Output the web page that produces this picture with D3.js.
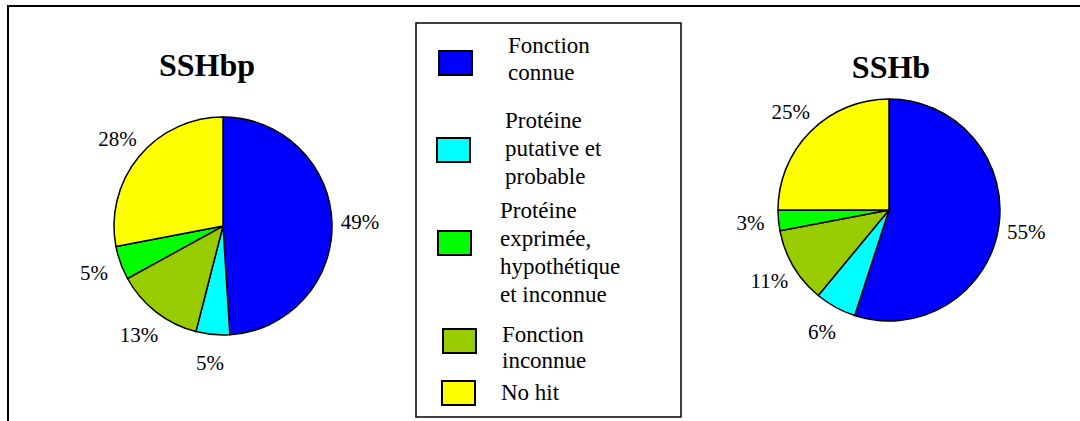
<!DOCTYPE html>
<html>
<head>
<meta charset="utf-8">
<script src="https://cdn.jsdelivr.net/npm/d3@7"></script>
<style>
  html, body { margin: 0; padding: 0; background: #fff; }
  svg { display: block; }
</style>
</head>
<body>
<svg id="chart" width="1080" height="421"></svg>
<script>
// ---- data ----
const categories = ["Fonction connue", "Protéine putative et probable", "Protéine exprimée, hypothétique et inconnue", "Fonction inconnue", "No hit"];
const legendLines = [
  ["Fonction", "connue"],
  ["Protéine", "putative et", "probable"],
  ["Protéine", "exprimée,", "hypothétique", "et inconnue"],
  ["Fonction", "inconnue"],
  ["No hit"]
];
const colors = ["#0000FF", "#00FFFF", "#00FF00", "#99CC00", "#FFFF00"];
const chartTitles = ["SSHbp", "SSHb"];
const valuesSSHbp = [49, 5, 5, 13, 28];
const valuesSSHb  = [55, 6, 3, 11, 25];
// drawing order around the pie (clockwise from 12 o'clock)
const sliceOrder = [0, 1, 3, 2, 4];

const FONT = "'Liberation Serif'";

// ---- layout ----
const svg = d3.select("#chart");
svg.append("line").attr("x1", 7).attr("x2", 1080).attr("y1", 6).attr("y2", 6)
  .attr("stroke", "#000").attr("stroke-width", 2);
svg.append("line").attr("x1", 8).attr("x2", 8).attr("y1", 5).attr("y2", 421)
  .attr("stroke", "#000").attr("stroke-width", 2);

const pies = [
  { title: chartTitles[0], values: valuesSSHbp, cx: 223, cy: 226, r: 109, tx: 207, ty: 76 },
  { title: chartTitles[1], values: valuesSSHb,  cx: 889, cy: 210, r: 111, tx: 891, ty: 78 }
];

const pieGen = d3.pie().sort(null).value(d => d.v);

pies.forEach(p => {
  const data = sliceOrder.map(i => ({ i, v: p.values[i] }));
  const arcs = pieGen(data);
  const arc = d3.arc().innerRadius(0).outerRadius(p.r);
  const labelArc = d3.arc().innerRadius(p.r + 28).outerRadius(p.r + 28);
  const g = svg.append("g").attr("transform", `translate(${p.cx},${p.cy})`);
  g.selectAll("path").data(arcs).enter().append("path")
    .attr("d", arc)
    .attr("fill", d => colors[d.data.i])
    .attr("stroke", "#000")
    .attr("stroke-width", 1.5)
    .attr("stroke-linejoin", "round");
  g.selectAll("text.lbl").data(arcs).enter().append("text")
    .attr("class", "lbl")
    .attr("transform", d => `translate(${labelArc.centroid(d)})`)
    .attr("text-anchor", "middle")
    .attr("dy", "0.35em")
    .attr("font-size", 21)
    .style("font-family", FONT)
    .text(d => d.data.v + "%");
  svg.append("text")
    .attr("x", p.tx).attr("y", p.ty)
    .attr("text-anchor", "middle")
    .attr("font-size", 32)
    .attr("font-weight", "bold")
    .style("font-family", FONT)
    .text(p.title);
});

// ---- legend ----
svg.append("rect").attr("x", 416).attr("y", 23).attr("width", 265).attr("height", 394)
  .attr("fill", "#fff").attr("stroke", "#000").attr("stroke-width", 1.5);

const legendLayout = [
  { sx: 439, sy: 51,  tx: 508, ty: [53, 80] },
  { sx: 437, sy: 138, tx: 505, ty: [128, 156, 184] },
  { sx: 438, sy: 231, tx: 500, ty: [218, 246, 274, 302] },
  { sx: 443, sy: 329, tx: 502, ty: [342, 368] },
  { sx: 442, sy: 381, tx: 501, ty: [400] }
];

categories.forEach((c, i) => {
  const L = legendLayout[i];
  svg.append("rect").attr("x", L.sx).attr("y", L.sy).attr("width", 33).attr("height", 24)
    .attr("fill", colors[i]).attr("stroke", "#000").attr("stroke-width", 2);
  const t = svg.append("text").attr("font-size", 23).style("font-family", FONT);
  legendLines[i].forEach((line, k) => {
    t.append("tspan").attr("x", L.tx).attr("y", L.ty[k]).text(line);
  });
});
</script>
</body>
</html>
